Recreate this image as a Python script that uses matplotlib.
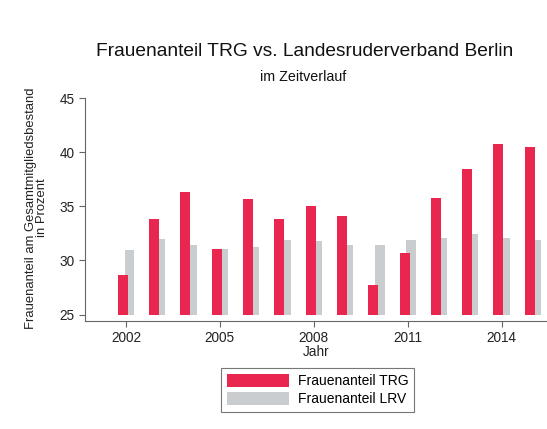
import matplotlib
matplotlib.use("Agg")
import matplotlib.pyplot as plt
import numpy as np

years = list(range(2002, 2016))
trg = [28.7, 33.8, 36.3, 31.05, 35.7, 33.8, 35.0, 34.1, 27.7, 30.65, 35.8, 38.5, 40.8, 40.45]
lrv = [31.0, 32.0, 31.4, 31.1, 31.2, 31.85, 31.8, 31.45, 31.4, 31.9, 32.1, 32.4, 32.05, 31.9]
xticks = [2002, 2005, 2008, 2011, 2014]
yticks = [25, 30, 35, 40, 45]

plt.rcParams['font.family'] = ['Liberation Sans', 'DejaVu Sans']

fig = plt.figure(figsize=(5.47, 4.29), dpi=100)
ax = fig.add_axes([85/547, 1-321/429, 1-85/547, (321-95)/429])

red = '#E8264F'
gray = '#C9CDCF'
x = np.array(years)
base = 25
ax.bar(x + 0.11, np.array(lrv) - base, bottom=base, width=0.3, color=gray, label='Frauenanteil LRV', zorder=2)
ax.bar(x - 0.10, np.array(trg) - base, bottom=base, width=0.32, color=red, label='Frauenanteil TRG', zorder=3)

ax.set_xlim(2000.69, 2015.45)
ax.set_ylim(24.4, 45.3)
ax.set_xticks(xticks)
ax.set_yticks(yticks)
for s in ['top', 'right']:
    ax.spines[s].set_visible(False)
for s in ['left', 'bottom']:
    ax.spines[s].set_color('#666666')
    ax.spines[s].set_linewidth(0.8)
ax.spines['left'].set_bounds(24.4, 45)
ax.tick_params(colors='#666666', labelcolor='#222222', labelsize=9.8, length=4, width=0.8)
ax.set_xlabel('Jahr', fontsize=9.8, labelpad=0, color='#222222')
ax.set_ylabel('Frauenanteil am Gesamtmitgliedsbestand\nin Prozent', fontsize=9.4, color='#222222', linespacing=0.9, labelpad=8)

fig.text(305/547, 1-52/429, 'Frauenanteil TRG vs. Landesruderverband Berlin', ha='center', va='center', fontsize=13.8, color='#111111')
fig.text(303/547, 1-77/429, 'im Zeitverlauf', ha='center', va='center', fontsize=10.3, color='#111111')

h, l = ax.get_legend_handles_labels()
leg = fig.legend(h[::-1], l[::-1], loc='center', bbox_to_anchor=(317.5/547, 1-390/429), fontsize=10,
                 frameon=True, fancybox=False, edgecolor='#555555', handlelength=4.5, handleheight=1.1,
                 borderpad=0.45, labelspacing=0.25, handletextpad=0.6)
leg.get_frame().set_linewidth(0.8)

fig.savefig('out.png', dpi=100)
